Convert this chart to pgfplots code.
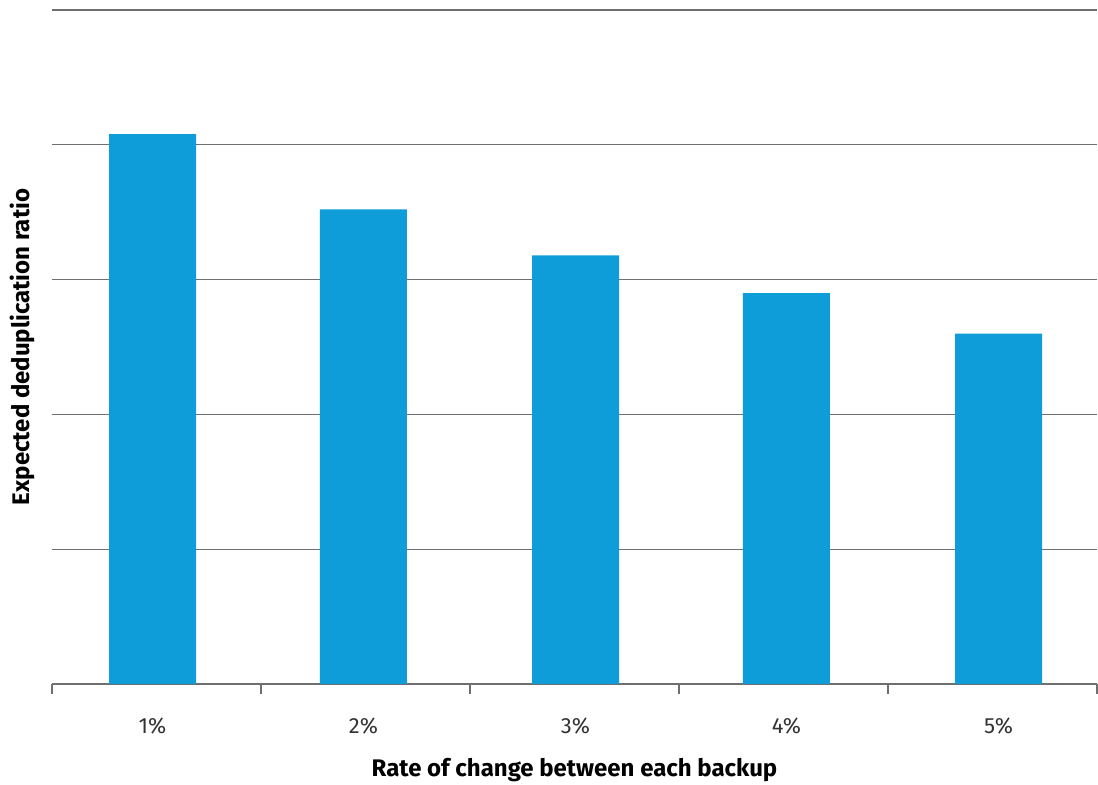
\documentclass[border=0pt]{standalone}
\usepackage{fontspec}
\setmainfont{Fira Sans}
\usepackage{pgfplots}
\pgfplotsset{compat=1.18}
\definecolor{barblue}{HTML}{0F9DDA}
\definecolor{gridgray}{HTML}{6D6F71}
\begin{document}
\begin{tikzpicture}
\begin{axis}[
  scale only axis,
  width=522.5pt, height=337pt,
  xmin=-0.5, xmax=4.5, ymin=0, ymax=5,
  axis x line*=bottom,
  axis y line*=left,
  y axis line style={draw=none},
  x axis line style={draw=gridgray, line width=0.6pt, -},
  xtick={-0.019,0.990,2.005,3.014,4.029},
  xticklabels={1\%,2\%,3\%,4\%,5\%},
  major x tick style={draw=none},
  minor xtick={-0.5,0.5,1.5,2.5,3.5,4.5},
  minor tick length=5pt,
  minor x tick style={draw=gridgray, line width=0.6pt},
  tick align=outside,
  xticklabel style={font=\fontsize{11}{13}\selectfont, text=black!80, yshift=-9pt},
  ytick={1,2,3,4,5},
  yticklabels={},
  major y tick style={draw=none},
  ymajorgrids,
  grid style={draw=gridgray, line width=0.6pt},
  xlabel={Rate of change between each backup},
  ylabel={Expected deduplication ratio},
  xlabel style={font=\bfseries\fontsize{12}{14}\selectfont, at={(axis description cs:0.5,0)}, anchor=center, yshift=-43pt},
  ylabel style={font=\bfseries\fontsize{12}{14}\selectfont, at={(axis description cs:-0.0287,0.5)}, anchor=center},
  clip=false,
]
\addplot[ybar, bar width=43.5pt, fill=barblue, draw=none] coordinates {(-0.019,4.08) (0.990,3.52) (2.005,3.18) (3.014,2.90) (4.029,2.60)};
\coordinate (A) at (axis cs:-0.5,0);
\coordinate (B) at (axis cs:4.5,5);
\end{axis}
\pgfresetboundingbox
\path ([shift={(-26pt,-50.5pt)}]A) rectangle ([shift={(0.5pt,5pt)}]B);
\end{tikzpicture}
\end{document}
